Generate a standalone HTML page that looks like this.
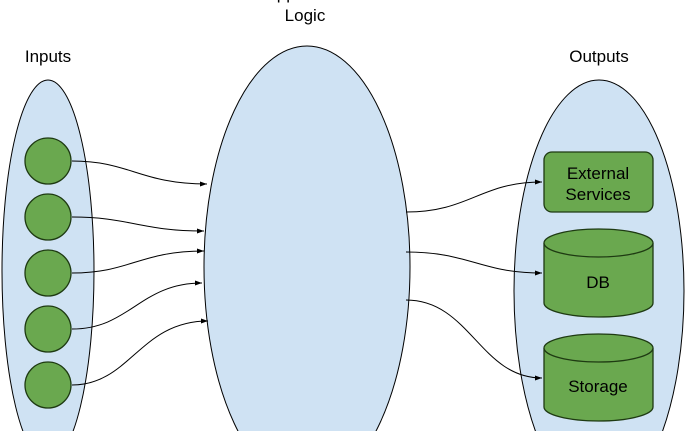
<!DOCTYPE html>
<html><head><style>html,body{margin:0;padding:0;background:#fff;width:690px;height:431px;overflow:hidden}svg{display:block}</style></head><body>
<svg width="690" height="431" viewBox="0 0 690 431" xmlns="http://www.w3.org/2000/svg" font-family="Liberation Sans, sans-serif" overflow="hidden">
<defs><marker id="a" markerWidth="8" markerHeight="8" refX="7" refY="4" orient="auto" markerUnits="userSpaceOnUse"><path d="M0,1.5 L7,4 L0,6.5 z" fill="#000"/></marker></defs>
<ellipse cx="48" cy="271" rx="46" ry="191" fill="#cfe2f3" stroke="#000" stroke-width="1"/>
<ellipse cx="307" cy="267" rx="103" ry="221" fill="#cfe2f3" stroke="#000" stroke-width="1"/>
<ellipse cx="599" cy="291" rx="85" ry="211" fill="#cfe2f3" stroke="#000" stroke-width="1"/>
<g fill="#6aa84f" stroke="#1e3a12" stroke-width="1.3">
<circle cx="48" cy="161" r="23"/><circle cx="48" cy="217" r="23"/><circle cx="48" cy="273" r="23"/><circle cx="48" cy="329" r="23"/><circle cx="48" cy="385" r="23"/>
<rect x="544" y="152" width="109" height="60" rx="8"/>
<path d="M544,243 v60 a54.5,14 0 0 0 109,0 v-60"/><ellipse cx="598.5" cy="243" rx="54.5" ry="14"/>
<path d="M544,348 v59 a54.5,14 0 0 0 109,0 v-59"/><ellipse cx="598.5" cy="348" rx="54.5" ry="14"/>
</g>
<g fill="none" stroke="#000" stroke-width="1" marker-end="url(#a)">
<path d="M72,161 C130,161 140,184 207,184"/>
<path d="M72,217 C130,217 140,231 204,231"/>
<path d="M72,273 C130,273 140,251 204,251"/>
<path d="M72,329 C130,329 140,283 202,283"/>
<path d="M72,385 C130,385 140,321 208,321"/>
<path d="M406,212 C470,212 480,182 542,182"/>
<path d="M406,252 C470,252 480,273 542,273"/>
<path d="M406,300 C470,300 480,378 542,378"/>
</g>
<g font-size="17" fill="#000" text-anchor="middle">
<text x="48" y="62">Inputs</text>
<text x="599" y="62">Outputs</text>
<text x="307" y="-1">Application</text>
<text x="305" y="21">Logic</text>
<text x="598" y="179">External</text>
<text x="598" y="200">Services</text>
<text x="598" y="288">DB</text>
<text x="598" y="392">Storage</text>
</g>
</svg>
</body></html>
